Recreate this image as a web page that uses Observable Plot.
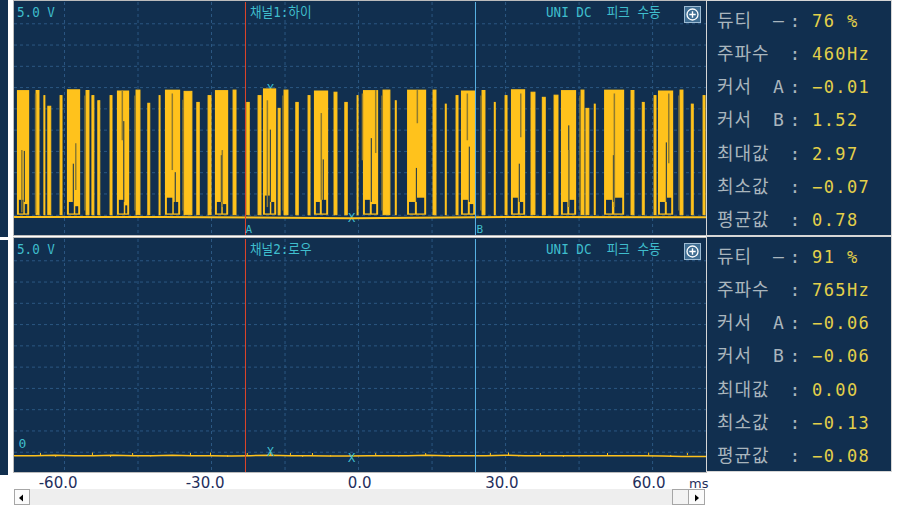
<!DOCTYPE html>
<html><head><meta charset="utf-8">
<script src="https://cdn.jsdelivr.net/npm/d3@7"></script>
<script src="https://cdn.jsdelivr.net/npm/@observablehq/plot@0.6"></script>
<style>
body{margin:0;background:#fff;}
#root{position:relative;width:897px;height:509px;overflow:hidden;font-family:"DejaVu Sans Mono","Noto Sans CJK KR",monospace;}
.abs{position:absolute;}
.strip{position:absolute;background:#112f4f;left:0;width:8px;}
.panel{position:absolute;left:13px;width:692px;height:234px;border:1px solid #bcbcbc;background:#112f4f;overflow:hidden;}
.panel .plotwrap{position:absolute;left:0;top:1px;}
.hdr{position:absolute;font-size:14px;line-height:14px;color:#3fbecd;white-space:pre;transform:scaleX(0.9);transform-origin:0 0;}
.icon{position:absolute;width:15px;height:15px;border:1px solid #9dbbd3;background:#3f6d92;}
.info{position:absolute;left:706px;width:184px;height:234px;border:1px solid #d6d6d6;background:#112f4f;}
.btn{position:absolute;top:489px;height:14px;border:1px solid #a6a6a6;background:#fbfbfb;}
</style></head>
<body><div id="root"></div>
<script>
// ---------- data (time in ms, voltage in V) ----------
const tDomain = [-70.2, 71.0];
const vDomain = [-0.5, 5.0];
const xGrid = [-60, -45, -30, -15, 0, 15, 30, 45, 60];
const yGrid = [0, 0.5, 1, 1.5, 2, 2.5, 3, 3.5, 4, 4.5];
const xTickLabels = [-60, -30, 0, 30, 60];
const cursorA = -23.07;
const cursorB = 23.86;

// channel 1 bursts: [start, end, top]
const ch1Blocks = [
  [-69.6,-67.1,2.93],[-59.4,-56.7,2.95],[-49.2,-46.7,2.92],[-39.4,-36.3,2.94],
  [-29.2,-26.5,2.93],[-19.4,-16.7,2.97],[-9.0,-6.1,2.92],[1.0,4.1,2.93],
  [10.0,13.9,2.94],[21.0,23.9,2.92],[31.2,34.1,2.95],[41.4,44.5,2.93],
  [50.2,54.3,2.94],[61.2,64.3,2.92]
];
// low parts inside the bursts that the signal never reaches: [start, end, top]
const ch1Notches = [
  [-69.2,-68.3,0.35],[-68.0,-67.5,0.25],[-59.0,-58.0,0.30],[-57.7,-57.1,0.20],
  [-48.8,-47.8,0.35],[-47.5,-47.1,0.22],[-39.0,-37.9,0.40],[-37.6,-36.7,0.30],
  [-28.8,-27.9,0.30],[-27.6,-26.9,0.25],[-19.0,-18.0,0.45],[-17.7,-17.1,0.30],
  [-8.6,-7.8,0.30],[-7.4,-6.5,0.35],[1.4,2.4,0.35],[2.8,3.7,0.25],
  [10.4,11.6,0.30],[12.0,13.5,0.40],[21.4,22.4,0.35],[22.8,23.5,0.25],
  [31.6,32.6,0.40],[33.0,33.7,0.30],[41.8,42.7,0.30],[43.1,44.1,0.35],
  [50.6,51.8,0.35],[52.3,53.9,0.40],[61.6,62.6,0.30],[63.0,63.9,0.40]
];
// thin dark gaps inside bursts: [time, from, to]
const ch1Gaps = [
  [-68.2,1.5,0.3],[-58.2,1.2,0.3],[-47.9,2.2,0.3],[-37.4,1.0,0.3],[-28.0,1.4,0.3],
  [-18.0,2.0,0.3],[-7.2,1.3,0.3],[2.6,1.8,0.3],[11.8,1.1,0.3],[22.6,1.6,0.3],
  [32.8,1.2,0.3],[42.9,2.1,0.3],[52.0,1.4,0.3],[62.8,1.7,0.3]
];
// channel 1 single pulses: [start, end, top]
const ch1Spikes = [
  [-65.7,-65.1,2.92],[-55.5,-54.9,2.92],[-54.3,-53.9,2.80],[-45.3,-44.5,2.93],[-35.5,-33.9,2.90],
  [-25.5,-24.9,2.93],[-15.1,-14.3,2.93],[-4.9,-4.3,2.88],[5.1,6.5,2.93],[15.3,15.9,2.93],
  [25.3,25.9,2.92],[35.3,36.1,2.88],[45.5,46.1,2.93],[55.7,56.3,2.92],[65.7,66.3,2.93],
  [-63.3,-62.7,2.55],[-53.1,-52.7,2.68],[-42.9,-42.5,2.62],[-32.9,-32.4,2.64],[-22.7,-22.2,2.64],
  [-16.3,-15.9,2.50],[-12.7,-12.2,2.64],[-2.7,-2.2,2.64],[7.6,7.8,2.68],[17.8,18.0,2.60],
  [27.8,28.0,2.64],[37.6,38.2,2.76],[46.5,47.1,2.50],[58.0,58.4,2.64],[68.0,68.4,2.60],
  [-64.1,-63.9,2.80],[-60.8,-60.4,2.80],[-50.6,-50.2,2.80],[-40.6,-40.4,2.80],[-30.6,-30.0,2.80],
  [-20.4,-19.8,2.80],[-10.2,-9.8,2.80],[-0.2,0.0,2.80],[20.0,20.4,2.80],[30.0,30.4,2.80],
  [40.0,40.8,2.81],[48.2,48.4,2.60],[60.4,60.8,2.80],[70.4,70.8,2.80]
];
// darker overlapping strokes: [time, from, to]
const ch1Shades = [
  [-68.7,1.52,0.06],[-65.9,2.85,0.04],[-57.7,1.68,0.58],[-48.2,2.93,1.75],[-38.0,2.85,1.05],
  [-27.8,1.52,0.18],[-18.6,2.69,0.18],[-7.6,2.39,0.35],[0.8,2.85,1.28],[3.5,2.93,1.45],
  [12.0,2.93,2.15],[22.2,2.85,1.75],[33.1,2.85,1.82],[42.9,1.52,0.18],[52.2,2.85,0.18],[63.3,2.85,1.21],
  [-55.8,2.8,0.1],[-45.6,2.8,0.1],[-35.8,2.7,0.1],[-15.4,2.8,0.1],[4.8,2.8,0.1],[25.0,2.8,0.1],[45.2,2.8,0.1],[65.4,2.8,0.1]
];
const ch1Base = [[-70.2,-0.04],[-40,-0.04],[-1.4,-0.07],[30,-0.04],[71.0,-0.05]];
const ch1Marks = [[-18.0,2.97],[-1.4,-0.07]];

// channel 2 trace: [time, value]
const ch2Trace = [
  [-70.2,-0.08],[-66,-0.08],[-62,-0.07],[-58,-0.08],[-54,-0.08],[-50,-0.07],[-46,-0.08],[-42,-0.08],
  [-38,-0.07],[-34,-0.08],[-30,-0.08],[-26,-0.09],[-22,-0.08],[-18,-0.07],[-14,-0.08],[-10,-0.08],
  [-6,-0.09],[-2,-0.09],[2,-0.08],[6,-0.08],[10,-0.08],[14,-0.07],[18,-0.08],[22,-0.08],[26,-0.08],
  [30,-0.07],[34,-0.08],[38,-0.08],[42,-0.08],[46,-0.08],[50,-0.08],[54,-0.08],[58,-0.08],[62,-0.09],
  [66,-0.10],[71.0,-0.10]
];
const ch2Glitches = [
  [-64.9,-0.03],[-61.8,-0.12],[-54.3,-0.02],[-50.6,-0.12],[-46.1,-0.03],[-42.4,-0.11],[-34.3,-0.03],
  [-30.2,-0.02],[-26.7,-0.12],[-22.7,-0.03],[-18.0,0.0],[-13.9,-0.03],[-11.4,-0.12],[-9.4,-0.03],
  [-5.7,-0.11],[-1.4,-0.13],[3.5,-0.03],[8.2,-0.11],[13.7,-0.03],[18.6,-0.12],[26.9,-0.03],
  [30.6,-0.02],[32.7,-0.11],[37.1,-0.03],[41.8,-0.12],[50.8,-0.03],[59.2,-0.02],[63.7,-0.12],[67.1,-0.03]
];
const ch2Marks = [[-18.0,0.00],[-1.4,-0.13]];

const infoLabels = ["듀티","주파수","커서","커서","최대값","최소값","평균값"];
const infoSuffix = ["–","","A","B","","",""];
const ch1Values = ["76 %","460Hz","−0.01","1.52","2.97","−0.07","0.78"];
const ch2Values = ["91 %","765Hz","−0.06","−0.06","0.00","−0.13","−0.08"];
const ch1Title = "채널1:하이";
const ch2Title = "채널2:로우";
const scaleText = "5.0 V";
const modeText = "UNI DC  피크 수동";

// ---------- styles ----------
const BG = "#112f4f", YEL = "#ffc21c", GRID = "#2b5782", CYAN = "#3fbecd", RED = "#e0452a", BLUE = "#5ab4e6", OLIVE = "#8f7b30";
const root = document.getElementById("root");

function el(tag, cls, style, text){
  const e = document.createElement(tag);
  if (cls) e.className = cls;
  if (style) e.setAttribute("style", style);
  if (text != null) e.textContent = text;
  root.appendChild(e);
  return e;
}

const pt = a => ({t:a[0], v:a[1]});

function basePlot(marks){
  return Plot.plot({
    width: 692, height: 234, margin: 0,
    x: {domain: tDomain, axis: null},
    y: {domain: vDomain, axis: null},
    style: {background: "transparent", fontFamily: "DejaVu Sans Mono", overflow: "visible"},
    marks
  });
}
function gridMarks(){
  return [
    Plot.ruleX(xGrid, {stroke: GRID, strokeDasharray: "3,3", strokeWidth: 1}),
    Plot.ruleY(yGrid, {stroke: GRID, strokeDasharray: "3,3", strokeWidth: 1}),
    Plot.text([0], {frameAnchor: "left", y: d => d, text: () => "0", dx: 4, dy: -8, fill: CYAN, fontSize: 13, textAnchor: "start"})
  ];
}
function markerMarks(list){
  return Plot.text(list.map(pt), {x: "t", y: "v", text: () => "X", fill: CYAN, fontSize: 12});
}
function cursorMarks(){
  return [
    Plot.ruleX([cursorA], {stroke: RED, strokeWidth: 1}),
    Plot.ruleX([cursorB], {stroke: BLUE, strokeWidth: 1})
  ];
}

const blocks = ch1Blocks.map(a => ({t0:a[0], t1:a[1], hi:a[2]}));
const notches = ch1Notches.map(a => ({t0:a[0], t1:a[1], v:a[2]}));
const gaps = ch1Gaps.map(a => ({t:a[0], v1:a[1], v2:a[2]}));
const spikes = ch1Spikes.map(a => ({t0:a[0], t1:a[1], v:a[2]}));
const shades = ch1Shades.map(a => ({t:a[0], v1:a[1], v2:a[2]}));

const top1 = basePlot([
  ...gridMarks(),
  markerMarks(ch1Marks),
  Plot.line(ch1Base.map(pt), {x: "t", y: "v", stroke: YEL, strokeWidth: 2}),
  Plot.rect(blocks, {x1: "t0", x2: "t1", y1: 0, y2: "hi", fill: YEL}),
  Plot.rect(notches, {x1: "t0", x2: "t1", y1: 0.03, y2: "v", fill: BG}),
  Plot.ruleX(gaps, {x: "t", y1: "v1", y2: "v2", stroke: BG, strokeWidth: 1}),
  Plot.rect(spikes, {x1: "t0", x2: "t1", y1: 0, y2: "v", fill: YEL, stroke: YEL, strokeWidth: 1}),
  Plot.ruleX(shades, {x: "t", y1: "v1", y2: "v2", stroke: OLIVE, strokeWidth: 1.5}),
  ...cursorMarks(),
  Plot.text([cursorA], {x: d => d, y: -0.33, text: () => "A", fill: CYAN, fontSize: 11, textAnchor: "start", dx: 0}),
  Plot.text([cursorB], {x: d => d, y: -0.33, text: () => "B", fill: CYAN, fontSize: 11, textAnchor: "start", dx: 1})
]);

const bot1 = basePlot([
  ...gridMarks(),
  Plot.line(ch2Trace.map(pt), {x: "t", y: "v", stroke: YEL, strokeWidth: 1.5}),
  Plot.ruleX(ch2Glitches.map(pt), {x: "t", y1: -0.08, y2: "v", stroke: YEL, strokeWidth: 1}),
  ...cursorMarks(),
  markerMarks(ch2Marks)
]);

// left strips
el("div", "strip", "top:0;height:237px;");
el("div", "strip", "top:240px;height:235px;");

function makePanel(top, plot, title){
  const p = el("div", "panel", `top:${top}px;`);
  const w = document.createElement("div"); w.className = "plotwrap"; w.appendChild(plot); p.appendChild(w);
  el("div", "hdr", `left:17px;top:${top+5}px;`, scaleText);
  el("div", "hdr", `left:250px;top:${top+5}px;`, title);
  el("div", "hdr", `left:546px;top:${top+5}px;`, modeText);
  const ic = el("div", "icon", `left:684px;top:${top+6}px;`);
  ic.innerHTML = '<svg width="15" height="15"><circle cx="7.5" cy="7.5" r="5.5" fill="none" stroke="#fff" stroke-width="1.3"/><path d="M7.5 4.3V10.7M4.3 7.5H10.7" stroke="#fff" stroke-width="1.4"/></svg>';
}
makePanel(0, top1, ch1Title);
makePanel(237, bot1, ch2Title);

function makeInfo(top, values){
  const box = el("div", "info", `top:${top}px;`);
  const svg = d3.create("svg").attr("width", 184).attr("height", 234);
  values.forEach((val, i) => {
    const y = 25.7 + 33.2 * i;
    svg.append("text").attr("x", 10).attr("y", y).attr("fill", "#a9b5bd")
      .attr("font-family", "Noto Sans CJK KR").attr("font-size", 18).attr("letter-spacing", 1).text(infoLabels[i]);
    if (infoSuffix[i]) svg.append("text").attr("x", 66).attr("y", y).attr("fill", "#a9b5bd")
      .attr("font-family", "DejaVu Sans Mono").attr("font-size", 18).text(infoSuffix[i]);
    svg.append("text").attr("x", 88).attr("y", y).attr("fill", "#a9b5bd").attr("text-anchor", "middle")
      .attr("font-family", "DejaVu Sans Mono").attr("font-size", 18).text(":");
    svg.append("text").attr("x", 105).attr("y", y).attr("fill", "#e3d04a")
      .attr("font-family", "DejaVu Sans Mono").attr("font-size", 17).attr("letter-spacing", 1.4).text(val);
  });
  box.appendChild(svg.node());
}
makeInfo(0, ch1Values);
makeInfo(236, ch2Values);

// time axis
const axis = Plot.plot({
  width: 692, height: 18, margin: 0,
  x: {domain: tDomain, axis: null},
  style: {background: "transparent", fontFamily: "DejaVu Sans", overflow: "visible"},
  marks: [Plot.text(xTickLabels, {x: d => d, text: d => d.toFixed(1), frameAnchor: "middle", textAnchor: "end", dx: 13, fontSize: 15, fill: "#1f2f5c"})]
});
const axWrap = el("div", "abs", "left:14px;top:474px;");
axWrap.appendChild(axis);
el("div", "abs", "left:689px;top:476px;font-family:'DejaVu Sans';font-size:13px;color:#1f2f5c;", "ms");

// scrollbar
el("div", "abs", "left:14px;top:489px;width:690px;height:16px;background:#eeeeee;");
const lb = el("div", "btn", "left:14px;width:14px;");
lb.innerHTML = '<svg width="14" height="14"><path d="M4 7L8 3.5V10.5Z" fill="#000"/></svg>';
el("div", "btn", "left:672px;width:15px;background:#f3f3f3;");
const rb = el("div", "btn", "left:688px;width:15px;");
rb.innerHTML = '<svg width="15" height="14"><path d="M10 7L6 3.5V10.5Z" fill="#000"/></svg>';
</script>
</body></html>
